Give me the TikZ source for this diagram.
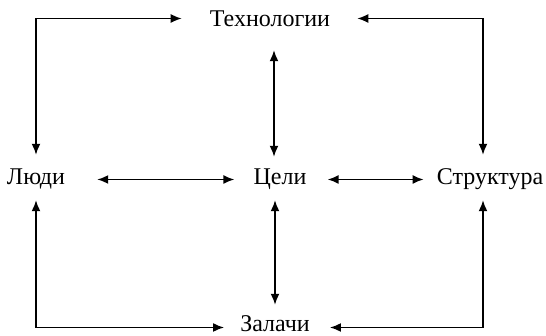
\documentclass[tikz,border=0pt]{standalone}
\usepackage{fontspec}
\setmainfont{Liberation Serif}
\usetikzlibrary{arrows.meta}

\tikzset{
  lbl/.style={inner sep=0pt, anchor=base, font=\fontsize{24}{28}\selectfont,
    text height=16pt, text depth=5pt},
  link/.style={line width=1.7pt, {Latex[length=11pt,width=9pt]}-{Latex[length=11pt,width=9pt]}}
}

\begin{document}
\begin{tikzpicture}[x=1pt,y=1pt]
  \useasboundingbox (0,0) rectangle (546,336);

  % the five elements
  \node[lbl] (T) at (270,309) {Технологии};
  \node[lbl] (L) at (36,151) {Люди};
  \node[lbl] (C) at (280,151) {Цели};
  \node[lbl] (S) at (490,151) {Структура};
  \node[lbl] (Z) at (275,4) {Залачи};

  % horizontal links through the centre
  \draw[link] ([xshift=32pt]L.east) -- ([xshift=-19pt]C.west);
  \draw[link] ([xshift=21pt]C.east) -- ([xshift=-13pt]S.west);

  % vertical links through the centre
  \draw[link] ([xshift=4pt,yshift=-18pt]T.south) -- ([xshift=-6pt,yshift=12pt]C.north);
  \draw[link] ([xshift=-5pt,yshift=-10pt]C.south) -- ([yshift=11pt]Z.north);

  % outer loops
  \draw[link] ([shift={(-28pt,3pt)}]T.west) -| ([yshift=14pt]L.north);
  \draw[link] ([shift={(27pt,3pt)}]T.east) -| ([shift={(-7pt,14pt)}]S.north);
  \draw[link] ([yshift=-10pt]L.south) |- ([shift={(-16pt,-1pt)}]Z.west);
  \draw[link] ([shift={(-7pt,-10pt)}]S.south) |- ([shift={(20pt,-1pt)}]Z.east);
\end{tikzpicture}
\end{document}
